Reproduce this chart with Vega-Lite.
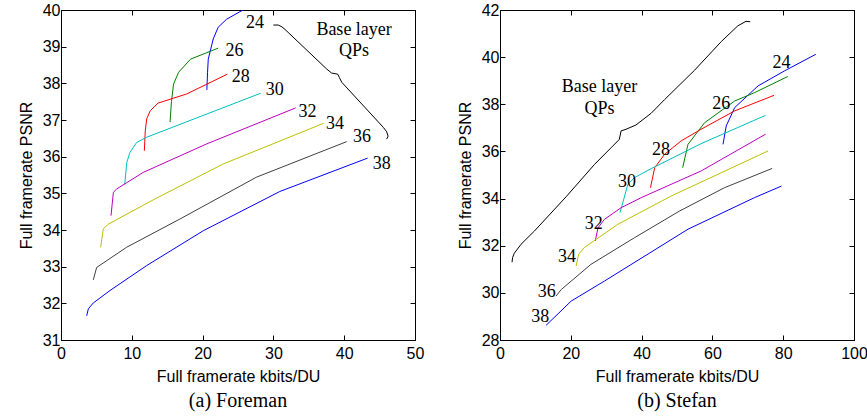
{
  "$schema": "https://vega.github.io/schema/vega-lite/v6.json",
  "background": "white",
  "padding": {"left": 17, "top": 1, "right": 1, "bottom": 0},
  "spacing": 31,
  "config": {
    "view": {"stroke": "black", "strokeWidth": 1},
    "axis": {
      "grid": false, "domainColor": "black", "tickColor": "black", "tickSize": -5, "labelFlush": false, "labelOverlap": false,
      "labelFont": "Liberation Sans", "labelFontSize": 16, "labelColor": "black",
      "titleFont": "Liberation Sans", "titleFontSize": 16, "titleFontWeight": "normal", "titleColor": "black",
      "labelPadding": 6
    },
    "axisX": {"labelPadding": 10, "titlePadding": 7},
    "title": {"font": "Liberation Serif", "fontSize": 20, "fontWeight": "normal", "color": "black", "orient": "bottom", "offset": 7}
  },
  "datasets": {
    "lines": [
      {"p":"F","s":"24","i":1,"x":20.6,"y":37.82},{"p":"F","s":"24","i":2,"x":20.7,"y":38.3},{"p":"F","s":"24","i":3,"x":20.8,"y":38.66},{"p":"F","s":"24","i":4,"x":21.5,"y":39.21},{"p":"F","s":"24","i":5,"x":22.2,"y":39.53},{"p":"F","s":"24","i":6,"x":23.4,"y":39.75},{"p":"F","s":"24","i":7,"x":25.7,"y":40.0},
      {"p":"F","s":"26","i":1,"x":15.4,"y":36.94},{"p":"F","s":"26","i":2,"x":15.6,"y":37.5},{"p":"F","s":"26","i":3,"x":15.9,"y":37.98},{"p":"F","s":"26","i":4,"x":16.6,"y":38.3},{"p":"F","s":"26","i":5,"x":18.3,"y":38.66},{"p":"F","s":"26","i":6,"x":22.2,"y":38.96},
      {"p":"F","s":"28","i":1,"x":11.77,"y":36.16},{"p":"F","s":"28","i":2,"x":11.9,"y":36.7},{"p":"F","s":"28","i":3,"x":12.1,"y":37.03},{"p":"F","s":"28","i":4,"x":12.6,"y":37.25},{"p":"F","s":"28","i":5,"x":13.7,"y":37.46},{"p":"F","s":"28","i":6,"x":17.75,"y":37.71},{"p":"F","s":"28","i":7,"x":23.5,"y":38.25},
      {"p":"F","s":"30","i":1,"x":9.0,"y":35.25},{"p":"F","s":"30","i":2,"x":9.3,"y":35.85},{"p":"F","s":"30","i":3,"x":9.75,"y":36.12},{"p":"F","s":"30","i":4,"x":10.7,"y":36.39},{"p":"F","s":"30","i":5,"x":12.1,"y":36.53},{"p":"F","s":"30","i":6,"x":28.2,"y":37.73},
      {"p":"F","s":"32","i":1,"x":7.06,"y":34.39},{"p":"F","s":"32","i":2,"x":7.4,"y":35.03},{"p":"F","s":"32","i":3,"x":7.87,"y":35.12},{"p":"F","s":"32","i":4,"x":11.6,"y":35.57},{"p":"F","s":"32","i":5,"x":20.6,"y":36.35},{"p":"F","s":"32","i":6,"x":33.15,"y":37.33},
      {"p":"F","s":"34","i":1,"x":5.6,"y":33.53},{"p":"F","s":"34","i":2,"x":5.97,"y":34.03},{"p":"F","s":"34","i":3,"x":6.68,"y":34.16},{"p":"F","s":"34","i":4,"x":13.3,"y":34.85},{"p":"F","s":"34","i":5,"x":22.9,"y":35.8},{"p":"F","s":"34","i":6,"x":37.1,"y":36.91},
      {"p":"F","s":"36","i":1,"x":4.56,"y":32.64},{"p":"F","s":"36","i":2,"x":5.04,"y":32.98},{"p":"F","s":"36","i":3,"x":9.28,"y":33.53},{"p":"F","s":"36","i":4,"x":16.8,"y":34.3},{"p":"F","s":"36","i":5,"x":27.6,"y":35.44},{"p":"F","s":"36","i":6,"x":40.35,"y":36.41},
      {"p":"F","s":"38","i":1,"x":3.63,"y":31.66},{"p":"F","s":"38","i":2,"x":3.86,"y":31.85},{"p":"F","s":"38","i":3,"x":4.56,"y":32.01},{"p":"F","s":"38","i":4,"x":6.92,"y":32.35},{"p":"F","s":"38","i":5,"x":12.1,"y":33.03},{"p":"F","s":"38","i":6,"x":20.1,"y":33.98},{"p":"F","s":"38","i":7,"x":30.9,"y":35.05},{"p":"F","s":"38","i":8,"x":43.3,"y":35.96},
      {"p":"F","s":"base","i":1,"x":29.99,"y":39.59},{"p":"F","s":"base","i":2,"x":30.69,"y":39.59},{"p":"F","s":"base","i":3,"x":31.2,"y":39.54},{"p":"F","s":"base","i":4,"x":31.64,"y":39.47},{"p":"F","s":"base","i":5,"x":37.53,"y":38.39},{"p":"F","s":"base","i":6,"x":38.23,"y":38.28},{"p":"F","s":"base","i":7,"x":39.08,"y":38.25},{"p":"F","s":"base","i":8,"x":39.31,"y":38.16},{"p":"F","s":"base","i":9,"x":39.65,"y":38.03},{"p":"F","s":"base","i":10,"x":45.52,"y":36.8},{"p":"F","s":"base","i":11,"x":46.0,"y":36.68},{"p":"F","s":"base","i":12,"x":46.2,"y":36.56},{"p":"F","s":"base","i":13,"x":46.0,"y":36.48},
      {"p":"S","s":"base","i":1,"x":3.4,"y":31.3},{"p":"S","s":"base","i":2,"x":3.56,"y":31.5},{"p":"S","s":"base","i":3,"x":4.04,"y":31.68},{"p":"S","s":"base","i":4,"x":5.94,"y":32.06},{"p":"S","s":"base","i":5,"x":9.7,"y":32.62},{"p":"S","s":"base","i":6,"x":18.7,"y":34.08},{"p":"S","s":"base","i":7,"x":26.7,"y":35.45},{"p":"S","s":"base","i":8,"x":31.4,"y":36.16},{"p":"S","s":"base","i":9,"x":33.7,"y":36.51},{"p":"S","s":"base","i":10,"x":34.2,"y":36.87},{"p":"S","s":"base","i":11,"x":35.6,"y":36.94},{"p":"S","s":"base","i":12,"x":38.4,"y":37.12},{"p":"S","s":"base","i":13,"x":42.7,"y":37.62},{"p":"S","s":"base","i":14,"x":46.5,"y":38.2},{"p":"S","s":"base","i":15,"x":55.0,"y":39.45},{"p":"S","s":"base","i":16,"x":62.5,"y":40.66},{"p":"S","s":"base","i":17,"x":67.2,"y":41.33},{"p":"S","s":"base","i":18,"x":69.5,"y":41.52},{"p":"S","s":"base","i":19,"x":70.7,"y":41.5},
      {"p":"S","s":"24","i":1,"x":63.0,"y":36.3},{"p":"S","s":"24","i":2,"x":63.9,"y":37.08},{"p":"S","s":"24","i":3,"x":66.3,"y":37.86},{"p":"S","s":"24","i":4,"x":72.9,"y":38.78},{"p":"S","s":"24","i":5,"x":80.4,"y":39.42},{"p":"S","s":"24","i":6,"x":89.2,"y":40.12},
      {"p":"S","s":"26","i":1,"x":51.6,"y":35.31},{"p":"S","s":"26","i":2,"x":53.1,"y":36.3},{"p":"S","s":"26","i":3,"x":57.8,"y":37.22},{"p":"S","s":"26","i":4,"x":66.3,"y":38.14},{"p":"S","s":"26","i":5,"x":72.0,"y":38.5},{"p":"S","s":"26","i":6,"x":81.3,"y":39.18},
      {"p":"S","s":"28","i":1,"x":42.5,"y":34.46},{"p":"S","s":"28","i":2,"x":43.7,"y":35.31},{"p":"S","s":"28","i":3,"x":46.5,"y":35.88},{"p":"S","s":"28","i":4,"x":51.2,"y":36.45},{"p":"S","s":"28","i":5,"x":56.8,"y":36.94},{"p":"S","s":"28","i":6,"x":66.3,"y":37.72},{"p":"S","s":"28","i":7,"x":77.4,"y":38.38},
      {"p":"S","s":"30","i":1,"x":33.9,"y":33.4},{"p":"S","s":"30","i":2,"x":34.7,"y":33.83},{"p":"S","s":"30","i":3,"x":36.1,"y":34.6},{"p":"S","s":"30","i":4,"x":38.0,"y":34.89},{"p":"S","s":"30","i":5,"x":42.7,"y":35.27},{"p":"S","s":"30","i":6,"x":56.8,"y":36.33},{"p":"S","s":"30","i":7,"x":75.0,"y":37.53},
      {"p":"S","s":"32","i":1,"x":26.9,"y":32.2},{"p":"S","s":"32","i":2,"x":27.7,"y":32.76},{"p":"S","s":"32","i":3,"x":29.5,"y":33.12},{"p":"S","s":"32","i":4,"x":34.2,"y":33.61},{"p":"S","s":"32","i":5,"x":39.9,"y":34.04},{"p":"S","s":"32","i":6,"x":56.8,"y":35.17},{"p":"S","s":"32","i":7,"x":75.0,"y":36.73},
      {"p":"S","s":"34","i":1,"x":21.5,"y":31.14},{"p":"S","s":"34","i":2,"x":22.2,"y":31.63},{"p":"S","s":"34","i":3,"x":23.8,"y":31.92},{"p":"S","s":"34","i":4,"x":33.3,"y":32.91},{"p":"S","s":"34","i":5,"x":48.4,"y":34.11},{"p":"S","s":"34","i":6,"x":75.7,"y":36.02},
      {"p":"S","s":"36","i":1,"x":15.8,"y":29.86},{"p":"S","s":"36","i":2,"x":17.3,"y":30.14},{"p":"S","s":"36","i":3,"x":25.7,"y":31.21},{"p":"S","s":"36","i":4,"x":38.0,"y":32.34},{"p":"S","s":"36","i":5,"x":50.7,"y":33.47},{"p":"S","s":"36","i":6,"x":63.4,"y":34.46},{"p":"S","s":"36","i":7,"x":76.9,"y":35.28},
      {"p":"S","s":"38","i":1,"x":13.0,"y":28.62},{"p":"S","s":"38","i":2,"x":20.1,"y":29.65},{"p":"S","s":"38","i":3,"x":29.5,"y":30.5},{"p":"S","s":"38","i":4,"x":53.1,"y":32.7},{"p":"S","s":"38","i":5,"x":71.9,"y":34.04},{"p":"S","s":"38","i":6,"x":79.5,"y":34.53}
    ],
    "labels": [
      {"p":"F","t":"24","x":27.4,"y":39.65},{"p":"F","t":"26","x":24.5,"y":38.89},{"p":"F","t":"28","x":25.4,"y":38.16},{"p":"F","t":"30","x":30.2,"y":37.83},{"p":"F","t":"32","x":34.8,"y":37.21},{"p":"F","t":"34","x":38.7,"y":36.89},{"p":"F","t":"36","x":42.5,"y":36.53},{"p":"F","t":"38","x":45.3,"y":35.8},{"p":"F","t":"Base layer","x":41.4,"y":39.46},{"p":"F","t":"QPs","x":41.4,"y":38.89},
      {"p":"S","t":"24","x":79.5,"y":39.77},{"p":"S","t":"26","x":62.5,"y":38.03},{"p":"S","t":"28","x":45.5,"y":36.05},{"p":"S","t":"30","x":35.9,"y":34.7},{"p":"S","t":"32","x":26.5,"y":32.93},{"p":"S","t":"34","x":18.9,"y":31.52},{"p":"S","t":"36","x":13.2,"y":30.05},{"p":"S","t":"38","x":11.4,"y":28.99},{"p":"S","t":"Base layer","x":28.1,"y":38.74},{"p":"S","t":"QPs","x":28.1,"y":37.78}
    ]
  },
  "hconcat": [
    {
      "width": 354, "height": 330,
      "title": {"text": "(a) Foreman"},
      "resolve": {"axis": {"x": "independent", "y": "independent"}},
      "layer": [
        {
          "data": {"name": "lines"},
          "transform": [{"filter": "datum.p === 'F'"}],
          "mark": {"type": "line", "strokeWidth": 1, "clip": true},
          "encoding": {
            "x": {"field": "x", "type": "quantitative", "scale": {"domain": [0, 50], "nice": false}, "axis": {"title": "Full framerate kbits/DU", "values": [0,10,20,30,40,50]}},
            "y": {"field": "y", "type": "quantitative", "scale": {"domain": [31, 40], "nice": false, "zero": false}, "axis": {"title": "Full framerate PSNR", "values": [31,32,33,34,35,36,37,38,39,40], "titlePadding": 8}},
            "detail": {"field": "s"},
            "order": {"field": "i"},
            "color": {"field": "s", "type": "nominal", "legend": null, "scale": {"domain": ["24","26","28","30","32","34","36","38","base"], "range": ["#0000ff","#008000","#ff0000","#00bfbf","#bf00bf","#bfbf00","#404040","#0000ff","#000000"]}}
          }
        },
        {
          "data": {"name": "labels"},
          "transform": [{"filter": "datum.p === 'F'"}],
          "mark": {"type": "text", "font": "Liberation Serif", "fontSize": 18, "color": "black"},
          "encoding": {
            "x": {"field": "x", "type": "quantitative", "axis": {"orient": "top", "labels": false, "title": null, "values": [0,10,20,30,40,50]}},
            "y": {"field": "y", "type": "quantitative", "axis": {"orient": "right", "labels": false, "title": null, "values": [31,32,33,34,35,36,37,38,39,40]}},
            "text": {"field": "t"}
          }
        }
      ]
    },
    {
      "width": 354, "height": 330,
      "title": {"text": "(b) Stefan"},
      "resolve": {"axis": {"x": "independent", "y": "independent"}},
      "layer": [
        {
          "data": {"name": "lines"},
          "transform": [{"filter": "datum.p === 'S'"}],
          "mark": {"type": "line", "strokeWidth": 1, "clip": true},
          "encoding": {
            "x": {"field": "x", "type": "quantitative", "scale": {"domain": [0, 100], "nice": false}, "axis": {"title": "Full framerate kbits/DU", "values": [0,20,40,60,80,100]}},
            "y": {"field": "y", "type": "quantitative", "scale": {"domain": [28, 42], "nice": false, "zero": false}, "axis": {"title": "Full framerate PSNR", "values": [28,30,32,34,36,38,40,42], "titlePadding": 8}},
            "detail": {"field": "s"},
            "order": {"field": "i"},
            "color": {"field": "s", "type": "nominal", "legend": null, "scale": {"domain": ["24","26","28","30","32","34","36","38","base"], "range": ["#0000ff","#008000","#ff0000","#00bfbf","#bf00bf","#bfbf00","#404040","#0000ff","#000000"]}}
          }
        },
        {
          "data": {"name": "labels"},
          "transform": [{"filter": "datum.p === 'S'"}],
          "mark": {"type": "text", "font": "Liberation Serif", "fontSize": 18, "color": "black"},
          "encoding": {
            "x": {"field": "x", "type": "quantitative", "axis": {"orient": "top", "labels": false, "title": null, "values": [0,20,40,60,80,100]}},
            "y": {"field": "y", "type": "quantitative", "axis": {"orient": "right", "labels": false, "title": null, "values": [28,30,32,34,36,38,40,42]}},
            "text": {"field": "t"}
          }
        }
      ]
    }
  ]
}
